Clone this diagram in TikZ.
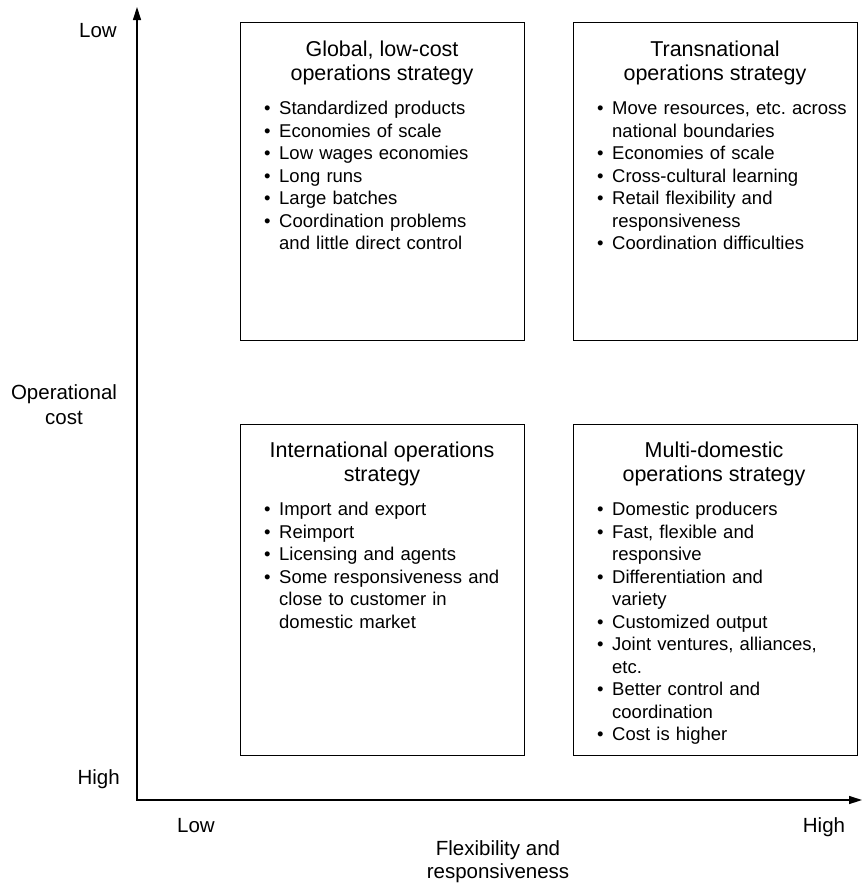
\documentclass[tikz,border=0pt]{standalone}
\usepackage{fontspec}
\setmainfont{Liberation Sans}
\usetikzlibrary{arrows.meta}
\frenchspacing
% bulleted entry with a hanging indent for wrapped lines;
% the zero-width rule fixes the height of the first line
\newcommand\bitem[1]{\par\hangindent=15pt\hangafter=1\noindent\rule{0pt}{16pt}\makebox[15pt][l]{\textbullet}#1\par}
\newcommand\firstline{\rule{0pt}{18pt}}
\begin{document}
\begin{tikzpicture}[x=1pt,y=-1pt,
  quad/.style={draw,line width=1.2pt,inner sep=0pt,anchor=north west,minimum width=284pt},
  axis/.style={line width=1.4pt,{Triangle[length=13pt,width=8pt]}-{Triangle[length=13pt,width=8pt]}},
  qtitle/.style={anchor=north,align=center,inner sep=0pt,font=\fontsize{21.5}{24}\selectfont},
  items/.style={anchor=north west,inner sep=0pt,text width=300pt,align=left,font=\fontsize{18.5}{22.5}\selectfont},
  lbl/.style={inner sep=0pt,font=\fontsize{20.5}{24}\selectfont}]
\fill[white] (0,0) rectangle (862,884);
\useasboundingbox (0,0) rectangle (862,884);

% axes
\coordinate (o) at (137,800);
\coordinate (ytip) at (137,7);
\coordinate (xtip) at (862,800);
\draw[axis] (ytip) -- (o) -- (xtip);

% axis labels
\node[lbl,anchor=base east] (ylow) at (117,37) {Low};
\node[lbl,anchor=base east] (yhigh) at (120,784) {High};
\node[lbl,anchor=north,align=center,font=\fontsize{20.5}{25}\selectfont] (ylab) at (64,381) {\firstline Operational\\cost};
\node[lbl,anchor=base] (xlow) at (196,832) {Low};
\node[lbl,anchor=base] (xhigh) at (824,832) {High};
\node[lbl,anchor=north,align=center,font=\fontsize{20.5}{23}\selectfont] (xlab) at (498,837) {\firstline Flexibility and\\responsiveness};

% quadrants
\node[quad,minimum height=318pt] (gl) at (240,22) {};
\node[quad,minimum height=318pt] (tn) at (573,22) {};
\node[quad,minimum height=331pt] (in) at (240,424) {};
\node[quad,minimum height=331pt] (md) at (573,424) {};

% top-left
\node[qtitle] (glt) at (382,38) {\firstline Global, low-cost\\operations strategy};
\node[items] (gli) at (264,92) {%
\bitem{Standardized products}
\bitem{Economies of scale}
\bitem{Low wages economies}
\bitem{Long runs}
\bitem{Large batches}
\bitem{Coordination problems\newline and little direct control}};

% top-right
\node[qtitle] (tnt) at (715,38) {\firstline Transnational\\operations strategy};
\node[items] (tni) at (597,92) {%
\bitem{Move resources, etc. across\newline national boundaries}
\bitem{Economies of scale}
\bitem{Cross-cultural learning}
\bitem{Retail flexibility and\newline responsiveness}
\bitem{Coordination difficulties}};

% bottom-left
\node[qtitle] (int) at (382,439) {\firstline International operations\\strategy};
\node[items] (ini) at (264,493) {%
\bitem{Import and export}
\bitem{Reimport}
\bitem{Licensing and agents}
\bitem{Some responsiveness and\newline close to customer in\newline domestic market}};

% bottom-right
\node[qtitle] (mdt) at (714,439) {\firstline Multi-domestic\\operations strategy};
\node[items] (mdi) at (597,493) {%
\bitem{Domestic producers}
\bitem{Fast, flexible and\newline responsive}
\bitem{Differentiation and\newline variety}
\bitem{Customized output}
\bitem{Joint ventures, alliances,\newline etc.}
\bitem{Better control and\newline coordination}
\bitem{Cost is higher}};
\end{tikzpicture}
\end{document}
